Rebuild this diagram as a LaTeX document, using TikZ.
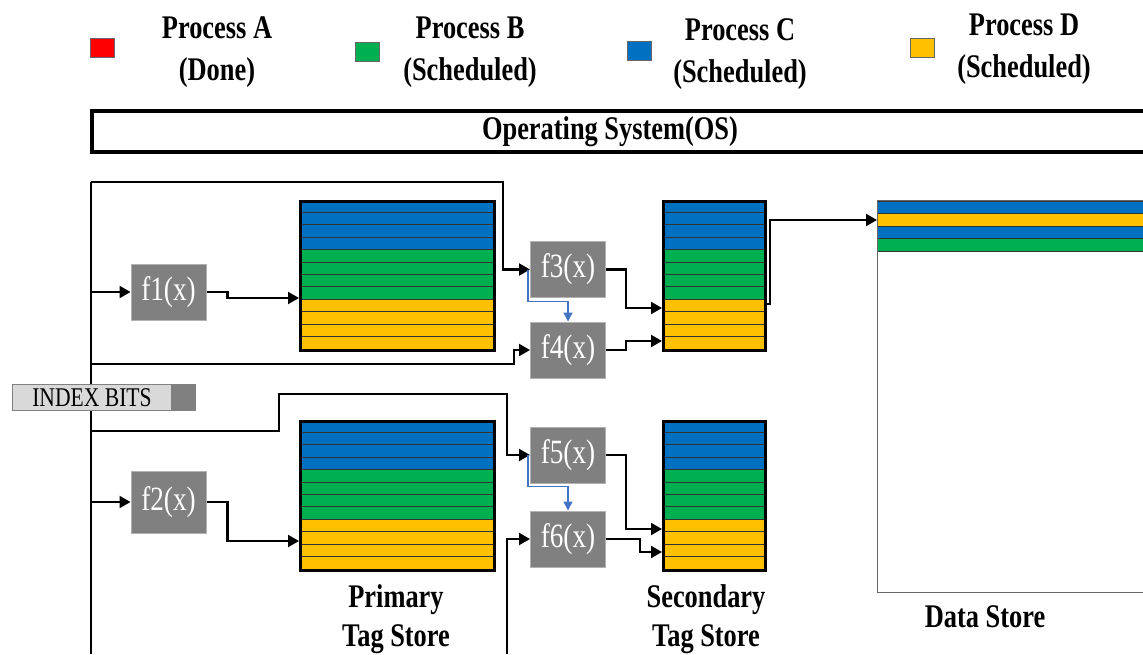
\documentclass[tikz,border=0pt]{standalone}
\usepackage{fontspec}
\setmainfont{Liberation Serif}
\newfontfamily\cond{Liberation Serif}[FakeStretch=0.8]
\usetikzlibrary{arrows.meta,calc}
\definecolor{cblue}{HTML}{0070C0}
\definecolor{cgreen}{HTML}{00B050}
\definecolor{cyellow}{HTML}{FFC000}
\definecolor{cred}{HTML}{FF0000}
\definecolor{fgray}{HTML}{808080}
\definecolor{lgray}{HTML}{D9D9D9}
\definecolor{arrowblue}{HTML}{4472C4}
\tikzset{
  lab/.style={font=\cond\fontsize{33}{42}\selectfont\bfseries, align=center, inner sep=0pt},
  fbox/.style={fill=fgray, draw=gray!60, line width=1pt, minimum width=75pt, minimum height=56pt, inner sep=0pt, text=white, font=\cond\fontsize{34}{38}\selectfont},
  conn/.style={line width=2.2pt, -{Triangle[length=11pt,width=12pt]}},
  wire/.style={line width=2.2pt},
  bconn/.style={draw=arrowblue, line width=1.5pt, -{Triangle[length=9pt,width=9pt]}},
  store/.style={draw=black, line width=3pt, inner sep=0pt},
  legsq/.style={draw=black!60, line width=0.8pt, minimum width=24pt, minimum height=19pt, inner sep=0pt},
  rowbox/.style={draw=black!80, line width=0.9pt},
}
\newcommand\tagrows[4]{%
  \pgfmathsetmacro\rh{(#4-#2)/12}%
  \foreach \i/\c in {0/cblue,1/cblue,2/cblue,3/cblue,4/cgreen,5/cgreen,6/cgreen,7/cgreen,8/cyellow,9/cyellow,10/cyellow,11/cyellow}{%
    \filldraw[rowbox, fill=\c] (#1,{#2+\i*\rh}) rectangle (#3,{#2+\i*\rh+\rh});
  }%
}
\begin{document}
\begin{tikzpicture}[x=1pt,y=-1pt]
\useasboundingbox (0,0) rectangle (1143,654);

% legend
\node[legsq, fill=cred] (sqa) at (102,47.5) {};
\node[lab] (ta) at (217,52) {Process A\\(Done)};
\node[legsq, fill=cgreen] (sqb) at (367,52) {};
\node[lab] (tb) at (470,52) {Process B\\(Scheduled)};
\node[legsq, fill=cblue] (sqc) at (639,51) {};
\node[lab] (tc) at (740,54) {Process C\\(Scheduled)};
\node[legsq, fill=cyellow] (sqd) at (922,48) {};
\node[lab] (td) at (1024,49) {Process D\\(Scheduled)};

% OS bar
\node[draw, line width=4pt, minimum width=1100pt, minimum height=41pt, anchor=west, inner sep=0pt] (os) at (90,131) {};
\node[lab] (ostext) at (610,132) {Operating System(OS)};

% tag stores
\tagrows{299}{200}{493}{349}
\node[store, minimum width=194pt, minimum height=149pt, anchor=north west] (pts1) at (299,200) {};
\tagrows{662}{200}{764}{349}
\node[store, minimum width=102pt, minimum height=149pt, anchor=north west] (sts1) at (662,200) {};
\tagrows{299}{420}{493}{569}
\node[store, minimum width=194pt, minimum height=149pt, anchor=north west] (pts2) at (299,420) {};
\tagrows{662}{420}{764}{569}
\node[store, minimum width=102pt, minimum height=149pt, anchor=north west] (sts2) at (662,420) {};

% data store
\filldraw[rowbox, fill=cblue] (877,201) rectangle (1150,213.5);
\filldraw[rowbox, fill=cyellow] (877,213.5) rectangle (1150,226);
\filldraw[rowbox, fill=cblue] (877,226) rectangle (1150,238.5);
\filldraw[rowbox, fill=cgreen] (877,238.5) rectangle (1150,251);
\node[draw=black!60, line width=1pt, minimum width=300pt, minimum height=392pt, anchor=north west, inner sep=0pt] (ds) at (877,200) {};

% function boxes
\node[fbox] (f1) at (168.5,292) {f1(x)};
\node[fbox, minimum height=62pt] (f2) at (168.5,502) {f2(x)};
\node[fbox] (f3) at (568,269.5) {f3(x)};
\node[fbox] (f4) at (568,350) {f4(x)};
\node[fbox] (f5) at (568,455) {f5(x)};
\node[fbox] (f6) at (568,539) {f6(x)};

% coordinates
\coordinate (tl) at (91,182);
\coordinate (bl) at (91,654);
\coordinate (j4) at (91,364);
\coordinate (j5) at (91,431);
\coordinate (b6) at (507,654);

% wires
\draw[wire] (tl) -- (bl);
\draw[conn] (tl) -- (503,182) |- (f3.west);
\draw[conn] (f1.west -| tl) -- (f1.west);
\draw[conn] (f1.east) -- ++(21,0) |- ($(pts1.north west)+(0,98)$);
\draw[conn] (j4) -- (514,364) |- (f4.west);
\draw[conn] (f3.east) -- ++(20,0) |- ($(sts1.north west)+(0,108)$);
\draw[conn] (f4.east) -- ++(20,0) |- ($(sts1.north west)+(0,141)$);
\draw[bconn] ($(f3.west)+(-2,0)$) |- ($(f4.north)+(0,-20)$) -- (f4.north);
\draw[conn] ($(sts1.north east)+(0,104)$) -- ++(3,0) |- ($(ds.north west)+(0,20)$);

\draw[conn] (j5) -- (279,431) -- (279,394) -- (507,394) |- (f5.west);
\draw[conn] (f2.west -| tl) -- (f2.west);
\draw[conn] (f2.east) -- ++(21,0) |- ($(pts2.north west)+(0,121)$);
\draw[conn] (f5.east) -- ++(20,0) |- ($(sts2.north west)+(0,109)$);
\draw[conn] (f6.east) -- ++(34,0) |- ($(sts2.north west)+(0,132)$);
\draw[bconn] ($(f5.west)+(-2,0)$) |- ($(f6.north)+(0,-24)$) -- (f6.north);
\draw[conn] (b6) |- (f6.west);

% index bits
\node[draw=gray, fill=lgray, line width=1pt, minimum width=159pt, minimum height=26pt, anchor=north west, inner sep=0pt, font=\cond\fontsize{27}{30}\selectfont] (ib) at (12,384) {INDEX BITS};
\node[draw=gray, fill=fgray, line width=1pt, minimum width=24pt, minimum height=26pt, anchor=north west, inner sep=0pt] (ibd) at (171,384) {};

% labels
\node[lab, font=\cond\fontsize{33}{39}\selectfont\bfseries] (lp) at (396,619) {Primary\\Tag Store};
\node[lab, font=\cond\fontsize{33}{39}\selectfont\bfseries] (ls) at (706,619) {Secondary\\Tag Store};
\node[lab] (ld) at (985,617) {Data Store};
\end{tikzpicture}
\end{document}
